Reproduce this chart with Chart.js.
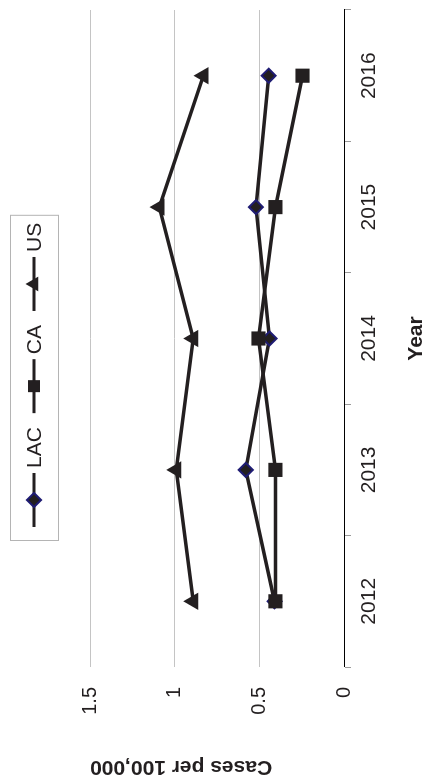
<!DOCTYPE html>
<html>
<head>
<meta charset="utf-8">
<script src="https://cdn.jsdelivr.net/npm/chart.js@4/dist/chart.umd.min.js"></script>
<style>
  html, body { margin: 0; padding: 0; background: #fff; overflow: hidden; }
  body { width: 426px; height: 782px; position: relative; }
  #wrap { position: absolute; left: 0; top: 0; width: 782px; height: 426px;
          transform-origin: 0 0; transform: translate(0px, 782px) rotate(-90deg); }
  canvas { display: block; }
</style>
</head>
<body>
<div id="wrap"><canvas id="c" width="782" height="426"></canvas></div>
<script>
const years = ['2012', '2013', '2014', '2015', '2016'];
const lacValues = [0.41, 0.58, 0.44, 0.52, 0.445];
const caValues = [0.405, 0.405, 0.505, 0.405, 0.245];
const usValues = [0.89, 0.99, 0.89, 1.09, 0.83];
const seriesNames = ['LAC', 'CA', 'US'];
const yTicks = [0, 0.5, 1, 1.5];

const FONT = "'Liberation Sans', Arial, sans-serif";
const INK = '#231f20';
const BLUE = '#1f1c73';

function drawMarker(ctx, style, x, y) {
  ctx.save();
  ctx.fillStyle = INK;
  if (style === 'rectRot') {
    const r = 7;
    ctx.beginPath();
    ctx.moveTo(x, y - r); ctx.lineTo(x + r, y); ctx.lineTo(x, y + r); ctx.lineTo(x - r, y); ctx.closePath();
    ctx.fill();
    ctx.lineWidth = 2; ctx.strokeStyle = BLUE; ctx.stroke();
  } else if (style === 'rect') {
    const s = 6;
    ctx.fillRect(x - s, y - s, 2 * s, 2 * s);
  } else {
    const r = 8.5;
    ctx.beginPath();
    ctx.moveTo(x, y - r);
    ctx.lineTo(x + r * Math.sin(2 * Math.PI / 3), y - r * Math.cos(2 * Math.PI / 3));
    ctx.lineTo(x + r * Math.sin(4 * Math.PI / 3), y - r * Math.cos(4 * Math.PI / 3));
    ctx.closePath();
    ctx.fill();
  }
  ctx.restore();
}

const legendPlugin = {
  id: 'boxLegend',
  afterDraw(chart) {
    const ctx = chart.ctx;
    ctx.save();
    ctx.font = '21px ' + FONT;
    const lineLen = 54, gapText = 5, gapItem = 14, padL = 14, padR = 7;
    const items = chart.data.datasets.map(ds => ({ label: ds.label, style: ds.pointStyle, w: ctx.measureText(ds.label).width }));
    let total = padL + padR;
    items.forEach((it, i) => { total += lineLen + gapText + it.w + (i < items.length - 1 ? gapItem : 0); });
    const boxX = 241, boxY = 10, boxH = 48;
    ctx.strokeStyle = '#b4b4b4';
    ctx.lineWidth = 1;
    ctx.strokeRect(boxX + 0.5, boxY + 0.5, total, boxH);
    const cy = 34;
    let x = boxX + padL;
    items.forEach((it) => {
      ctx.strokeStyle = INK;
      ctx.lineWidth = 3;
      ctx.beginPath(); ctx.moveTo(x, cy); ctx.lineTo(x + lineLen, cy); ctx.stroke();
      drawMarker(ctx, it.style, x + lineLen / 2, cy);
      ctx.fillStyle = INK;
      ctx.textBaseline = 'middle';
      ctx.textAlign = 'left';
      ctx.fillText(it.label, x + lineLen + gapText, cy + 1);
      x += lineLen + gapText + it.w + gapItem;
    });
    ctx.restore();
  }
};

new Chart(document.getElementById('c'), {
  type: 'line',
  data: {
    labels: years,
    datasets: [
      { label: seriesNames[0], data: lacValues, order: 2, borderColor: INK, borderWidth: 3.5,
        pointStyle: 'rectRot', pointRadius: 7, pointHoverRadius: 7, pointBackgroundColor: INK,
        pointBorderColor: BLUE, pointBorderWidth: 2, tension: 0, fill: false },
      { label: seriesNames[1], data: caValues, order: 1, borderColor: INK, borderWidth: 3.5,
        pointStyle: 'rect', pointRadius: 10, pointHoverRadius: 10, pointBackgroundColor: INK,
        pointBorderColor: INK, pointBorderWidth: 0, tension: 0, fill: false },
      { label: seriesNames[2], data: usValues, order: 0, borderColor: INK, borderWidth: 3.5,
        pointStyle: 'triangle', pointRadius: 10, pointHoverRadius: 10, pointBackgroundColor: INK,
        pointBorderColor: INK, pointBorderWidth: 0, tension: 0, fill: false }
    ]
  },
  options: {
    responsive: false,
    animation: false,
    devicePixelRatio: 1,
    layout: { padding: { top: 90, right: 5, left: 0, bottom: 0 } },
    plugins: { legend: { display: false }, tooltip: { enabled: false } },
    scales: {
      x: {
        type: 'category',
        offset: true,
        afterFit(scale) { scale.height = 82; },
        grid: { display: true, offset: true, drawOnChartArea: false, drawTicks: true, tickLength: 7, color: '#9a9a9a', lineWidth: 1 },
        border: { display: true, color: '#000', width: 1 },
        ticks: { font: { family: FONT, size: 21 }, color: INK, padding: 6, maxRotation: 0, minRotation: 0 },
        title: { display: true, text: 'Year', font: { family: FONT, size: 21, weight: 'bold' }, color: INK, padding: { top: 0, bottom: -3 } }
      },
      y: {
        min: 0, max: 1.5,
        afterFit(scale) { scale.width = 115; },
        afterBuildTicks(scale) { scale.ticks = yTicks.map(v => ({ value: v })); },
        grid: { drawTicks: false, color: (c) => (c.tick && c.tick.value === 0 ? 'rgba(0,0,0,0)' : '#c4c4c4'), lineWidth: 1 },
        border: { display: false },
        ticks: { font: { family: FONT, size: 20 }, color: INK, padding: 20, callback: (v) => String(v) },
        title: { display: true, text: 'Cases per 100,000', align: 'end', font: { family: FONT, size: 21, weight: 'bold' }, color: INK, padding: { top: 3, bottom: 0 } }
      }
    }
  },
  plugins: [legendPlugin]
});
</script>
</body>
</html>
